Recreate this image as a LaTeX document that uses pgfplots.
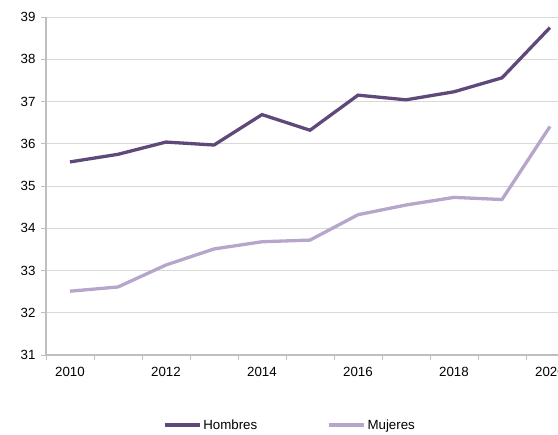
\documentclass[border=0pt]{standalone}
\usepackage{pgfplots}
\pgfplotsset{compat=1.18}
\usepackage{fontspec}
\setmainfont{Liberation Sans}
\definecolor{hom}{HTML}{5F497A}
\definecolor{muj}{HTML}{B6A6CC}
\definecolor{gridc}{HTML}{D9D9D9}
\definecolor{axc}{HTML}{BFBFBF}
\begin{document}
\begin{tikzpicture}[x=1pt,y=1pt]
\useasboundingbox (0,0) rectangle (558,435);
\clip (0,0) rectangle (558,435);
\begin{axis}[
  at={(46pt,80pt)}, anchor=origin,
  scale only axis, width=528pt, height=338pt,
  xmin=2009.5, xmax=2020.5, ymin=31, ymax=39,
  axis x line=bottom, axis y line=left,
  axis line style={axc, line width=1.6pt, -},
  xtick={2010,2012,...,2020},
  xticklabels={2010,2012,2014,2016,2018,2020},
  minor xtick={2009.5,2010.5,...,2020.5},
  major x tick style={draw=none},
  minor tick length=5pt,
  minor x tick style={axc, line width=0.8pt},
  ytick={31,...,39},
  y tick style={axc, line width=0.8pt},
  major tick length=5pt,
  tick align=outside,
  ymajorgrids, grid style={gridc, line width=0.9pt},
  /pgf/number format/assume math mode=true,
  ticklabel style={font=\fontsize{13.3}{16}\selectfont, text=black},
  xticklabel style={yshift=-4pt},
  yticklabel style={xshift=-2pt},
  legend style={at={(0.462,-0.207)}, anchor=center, draw=none, fill=none,
    font=\fontsize{13.3}{16}\selectfont, legend columns=2,
    /tikz/every even column/.append style={column sep=68pt},
    inner sep=0pt},
  legend image code/.code={\draw[#1] (0pt,0pt) -- (35pt,0pt);},
  legend cell align=left,
  clip=false,
]
\addplot[hom, line width=3.3pt] coordinates {
 (2010,35.57) (2011,35.75) (2012,36.04) (2013,35.97) (2014,36.69) (2015,36.32)
 (2016,37.15) (2017,37.04) (2018,37.23) (2019,37.56) (2020,38.75)};
\addlegendentry{Hombres}
\addplot[muj, line width=3.3pt] coordinates {
 (2010,32.51) (2011,32.61) (2012,33.13) (2013,33.51) (2014,33.68) (2015,33.72)
 (2016,34.32) (2017,34.55) (2018,34.73) (2019,34.68) (2020,36.41)};
\addlegendentry{Mujeres}
\end{axis}
\end{tikzpicture}
\end{document}
